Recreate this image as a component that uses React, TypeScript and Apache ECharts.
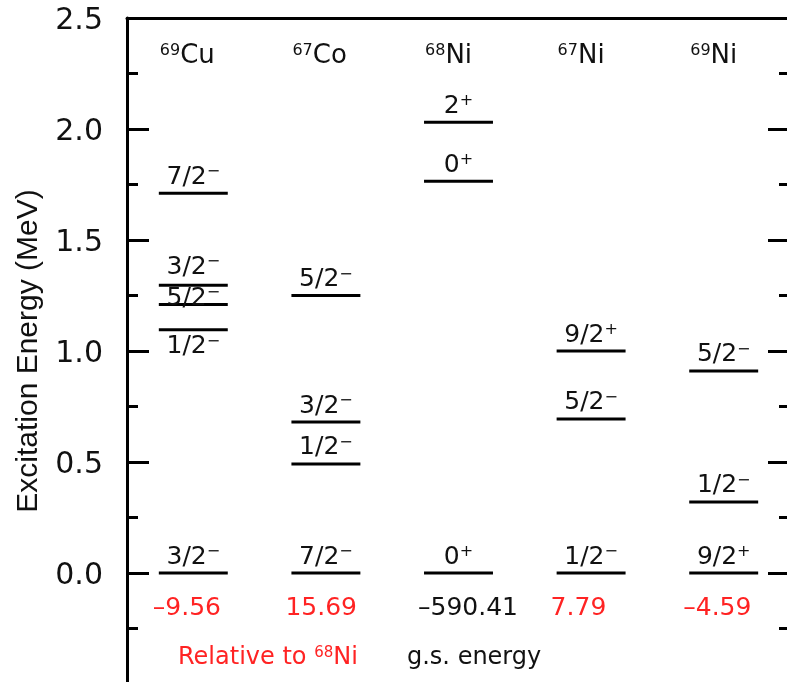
import React, { useEffect, useRef } from 'react';
import * as echarts from 'echarts';

// ---- data ----
const nuclei = ['Cu', 'Co', 'Ni', 'Ni', 'Ni'];
const massNumbers = ['69', '67', '68', '67', '69'];
const levelEnergies = [
  [0, 1.096, 1.21, 1.296, 1.711],
  [0, 0.491, 0.68, 1.25],
  [0, 1.765, 2.03],
  [0, 0.694, 1.0],
  [0, 0.32, 0.91],
];
const levelSpins = [
  ['3/2', '1/2', '5/2', '3/2', '7/2'],
  ['7/2', '1/2', '3/2', '5/2'],
  ['0', '0', '2'],
  ['1/2', '5/2', '9/2'],
  ['9/2', '1/2', '5/2'],
];
const levelParities = [
  ['−', '−', '−', '−', '−'],
  ['−', '−', '−', '−'],
  ['+', '+', '+'],
  ['−', '−', '+'],
  ['+', '−', '−'],
];
const gsEnergies = ['–9.56', '15.69', '–590.41', '7.79', '–4.59'];
const gsRelative = [true, true, false, true, true];
const yMin = -0.5;
const yMax = 2.5;
const yStep = 0.5;

// ---- styles ----
const FONT = 'DejaVu Sans, Liberation Sans, Arial, sans-serif';
const RED = '#ff2323';
const INK = '#111111';
const HALF = 0.26; // half-width of a level line (x units)
const LABEL_SHIFT: Record<string, number> = { '0-1': 15, '0-2': -8, '0-3': -20 };
const DEFAULT_SHIFT = -18;

export default function App() {
  const ref = useRef<HTMLDivElement>(null);
  useEffect(() => {
    if (!ref.current) return;
    const chart = echarts.init(ref.current, undefined, { renderer: 'svg' });

    const levelData: number[][] = [];
    levelEnergies.forEach((arr, c) => arr.forEach((e, i) => levelData.push([c, e, i])));
    const colData = nuclei.map((_, c) => [c, 0]);

    const axisCommon = {
      type: 'value' as const,
      min: yMin,
      max: yMax,
      interval: yStep,
      splitLine: { show: false },
      axisLine: { show: true, onZero: false, lineStyle: { color: '#000', width: 3 } },
      axisTick: { show: true, inside: true, length: 22, lineStyle: { color: '#000', width: 3 } },
      minorTick: { show: true, splitNumber: 2, length: 11, lineStyle: { color: '#000', width: 3 } },
    };

    chart.setOption({
      animation: false,
      grid: { left: 127, right: -3, top: 18, bottom: -2, containLabel: false, outerBoundsMode: 'none' },
      xAxis: {
        type: 'value',
        min: 0,
        max: nuclei.length,
        position: 'top',
        axisLine: { show: true, onZero: false, lineStyle: { color: '#000', width: 3 } },
        axisTick: { show: false },
        axisLabel: { show: false },
        splitLine: { show: false },
      },
      yAxis: [
        {
          ...axisCommon,
          position: 'left',
          name: 'Excitation Energy (MeV)',
          nameLocation: 'middle',
          nameRotate: 90,
          nameGap: 86,
          nameTextStyle: { fontSize: 30, fontFamily: 'Liberation Sans, Arial, sans-serif', color: INK },
          axisLabel: {
            show: true,
            fontSize: 30,
            fontFamily: FONT,
            color: INK,
            margin: 24,
            padding: [8, 0, 0, 0],
            showMinLabel: false,
            formatter: (v: number) => v.toFixed(1),
          },
        },
        {
          ...axisCommon,
          position: 'right',
          axisLabel: { show: false },
        },
      ],
      graphic: [
        {
          type: 'text',
          x: 178,
          y: 656,
          style: {
            text: 'Relative to {s|68}{m|Ni}',
            align: 'left',
            verticalAlign: 'middle',
            fill: RED,
            font: `24px ${FONT}`,
            rich: {
              s: { fontSize: 15, fontFamily: FONT, fill: RED, verticalAlign: 'top' },
              m: { fontSize: 24, fontFamily: FONT, fill: RED },
            },
          },
        },
        {
          type: 'text',
          x: 407,
          y: 656,
          style: {
            text: 'g.s. energy',
            align: 'left',
            verticalAlign: 'middle',
            fill: INK,
            font: `24px ${FONT}`,
          },
        },
      ],
      series: [
        {
          type: 'custom',
          coordinateSystem: 'cartesian2d',
          data: levelData,
          encode: { x: 0, y: 1 },
          renderItem: (params: any, api: any) => {
            const c = api.value(0);
            const e = api.value(1);
            const i = api.value(2);
            const l = api.coord([c + 0.5 - HALF, e]);
            const r = api.coord([c + 0.5 + HALF, e]);
            const shift = LABEL_SHIFT[`${c}-${i}`] ?? DEFAULT_SHIFT;
            return {
              type: 'group',
              children: [
                {
                  type: 'line',
                  shape: { x1: l[0], y1: l[1], x2: r[0], y2: r[1] },
                  style: { stroke: '#000', lineWidth: 3 },
                },
                {
                  type: 'text',
                  x: (l[0] + r[0]) / 2,
                  y: l[1] + shift,
                  style: {
                    text: `{m|${levelSpins[c][i]}}{s|${levelParities[c][i]}}`,
                    align: 'center',
                    verticalAlign: 'middle',
                    fill: INK,
                    font: `25px ${FONT}`,
                    rich: {
                      m: { fontSize: 25, fontFamily: FONT, fill: INK },
                      s: { fontSize: 16, fontFamily: FONT, fill: INK, verticalAlign: 'top' },
                    },
                  },
                },
              ],
            };
          },
        },
        {
          type: 'custom',
          coordinateSystem: 'cartesian2d',
          data: colData,
          encode: { x: 0, y: 1 },
          renderItem: (params: any, api: any) => {
            const c = api.value(0);
            const top = api.coord([c + 0.5 - HALF, yMax]);
            const zero = api.coord([c + 0.5 - HALF, 0]);
            const col = gsRelative[c] ? RED : INK;
            return {
              type: 'group',
              children: [
                {
                  type: 'text',
                  x: top[0] + 1,
                  y: top[1] + 36,
                  style: {
                    text: `{s|${massNumbers[c]}}{m|${nuclei[c]}}`,
                    align: 'left',
                    verticalAlign: 'middle',
                    fill: INK,
                    font: `26px ${FONT}`,
                    rich: {
                      s: { fontSize: 16, fontFamily: FONT, fill: INK, verticalAlign: 'top' },
                      m: { fontSize: 26, fontFamily: FONT, fill: INK },
                    },
                  },
                },
                {
                  type: 'text',
                  x: zero[0] - 6,
                  y: zero[1] + 33,
                  style: {
                    text: gsEnergies[c],
                    align: 'left',
                    verticalAlign: 'middle',
                    fill: col,
                    font: `25px ${FONT}`,
                  },
                },
              ],
            };
          },
        },
      ],
    });
    return () => chart.dispose();
  }, []);
  return <div ref={ref} style={{ position: 'fixed', left: 0, top: 0, width: 787, height: 682 }} />;
}
